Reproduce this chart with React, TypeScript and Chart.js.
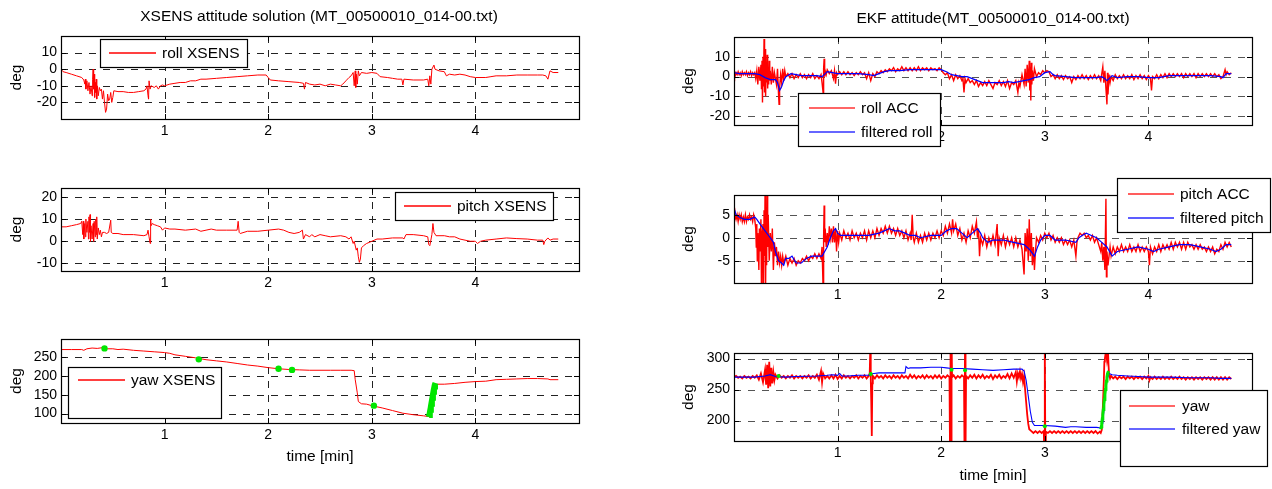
import React, { useEffect, useRef } from 'react';
import { Chart, registerables } from 'chart.js';

Chart.register(...registerables);

type Pt = [number, number];

// ---------- tick labels ----------
const timeTicks = [1, 2, 3, 4];
const rollXsensTicks = [-20, -10, 0, 10];
const pitchXsensTicks = [-10, 0, 10, 20];
const yawXsensTicks = [100, 150, 200, 250];
const rollEkfTicks = [-20, -10, 0, 10];
const pitchEkfTicks = [-5, 0, 5];
const yawEkfTicks = [200, 250, 300];

// ---------- texts ----------
const leftTitle = 'XSENS attitude solution (MT_00500010_014-00.txt)';
const rightTitle = 'EKF attitude(MT_00500010_014-00.txt)';
const yLabel = 'deg';
const xLabel = 'time [min]';

// ---------- XSENS series (time [min], deg) ----------
const rollXsens: Pt[] = [
  [0, 0], [0.02, -1.5], [0.05, -2], [0.1, -3], [0.15, -4], [0.2, -5], [0.22, -6.5], [0.23, -9], [0.235, -6], [0.24, -12],
  [0.25, -7], [0.26, -13], [0.27, -8], [0.28, -15], [0.29, -10], [0.3, -16], [0.305, -6], [0.31, 0], [0.315, -12], [0.32, -3],
  [0.325, -17], [0.33, -8], [0.335, -14], [0.34, -6], [0.345, -18], [0.35, -10], [0.36, -16], [0.37, -11], [0.38, -13], [0.39, -12],
  [0.4, -18], [0.41, -13], [0.42, -20], [0.43, -26], [0.44, -24], [0.45, -15], [0.46, -19], [0.47, -18], [0.48, -14], [0.49, -20],
  [0.5, -17], [0.51, -13], [0.55, -13.5], [0.6, -13.5], [0.65, -14], [0.7, -14], [0.75, -13.5], [0.8, -13], [0.82, -12], [0.83, -10],
  [0.84, -16], [0.845, -18], [0.85, -7], [0.86, -12], [0.87, -10], [0.9, -11], [0.92, -10], [0.94, -12], [0.96, -10], [0.98, -9.5],
  [1.0, -10], [1.05, -9], [1.1, -8.5], [1.15, -8], [1.2, -8], [1.25, -7], [1.3, -7], [1.35, -6], [1.4, -6], [1.5, -5.5],
  [1.6, -5], [1.7, -4.5], [1.8, -4], [1.9, -3.5], [1.98, -3.5], [2.0, -5], [2.02, -6.5], [2.1, -7], [2.2, -7.5], [2.3, -8],
  [2.34, -8.5], [2.35, -12], [2.36, -8], [2.4, -9], [2.45, -9.5], [2.5, -9], [2.55, -10], [2.6, -9], [2.65, -9.5], [2.7, -10],
  [2.72, -9], [2.75, -7], [2.78, -5], [2.8, -4], [2.82, -2], [2.83, -10], [2.84, -1], [2.845, -11], [2.85, -3], [2.86, -9],
  [2.87, -1], [2.88, -4], [2.9, -2], [2.95, -2.5], [3.0, -2], [3.05, -2.5], [3.08, -4.5], [3.15, -5], [3.2, -5.5], [3.25, -6],
  [3.29, -6], [3.3, -9.5], [3.31, -6], [3.4, -6.5], [3.5, -6.5], [3.54, -6], [3.55, -10], [3.56, -4], [3.57, -9], [3.58, 0],
  [3.6, 2.5], [3.61, 0], [3.65, -1], [3.7, -1.5], [3.72, -4], [3.75, -3], [3.8, -3.5], [3.85, -3], [3.9, -3.5], [3.95, -4.5],
  [4.0, -5], [4.1, -5], [4.15, -4.5], [4.2, -4], [4.3, -4], [4.4, -3.5], [4.5, -3.5], [4.6, -3.5], [4.65, -3.5], [4.68, -4],
  [4.7, -6], [4.72, -1], [4.75, -2], [4.8, -2],
];

const pitchXsens: Pt[] = [
  [0, 6.5], [0.05, 6.5], [0.1, 7], [0.15, 7.5], [0.19, 8], [0.2, 9], [0.21, 3], [0.215, 9], [0.22, 1], [0.23, 8],
  [0.235, 2], [0.24, 10], [0.25, 4], [0.26, 9], [0.265, 1], [0.27, 11], [0.275, 4], [0.28, 12], [0.285, 0], [0.29, 7],
  [0.3, 1], [0.31, 8], [0.315, 0], [0.32, 9], [0.33, 2], [0.335, 10], [0.34, 3], [0.345, 11], [0.35, 1], [0.36, 6],
  [0.37, 3], [0.38, 5], [0.39, 2], [0.4, 4], [0.42, 4], [0.44, 3.5], [0.46, 4], [0.48, 9.5], [0.485, 4], [0.5, 3.5],
  [0.55, 3.5], [0.6, 3], [0.7, 3], [0.8, 2.5], [0.83, 3], [0.84, 5], [0.85, 2], [0.86, -1], [0.865, 10], [0.87, 7],
  [0.88, 8], [0.9, 7.5], [0.93, 7], [0.96, 6.5], [0.98, 5], [1.0, 6], [1.05, 5.5], [1.1, 5.5], [1.2, 5], [1.3, 5.5],
  [1.35, 4.5], [1.4, 5], [1.45, 5.5], [1.5, 5], [1.6, 5], [1.7, 5], [1.71, 9], [1.72, 4], [1.73, 3.5], [1.8, 4.5],
  [1.9, 4.5], [2.0, 5], [2.1, 5.5], [2.15, 5], [2.2, 4], [2.25, 3.5], [2.3, 4], [2.33, 5], [2.34, 1], [2.36, 3],
  [2.4, 2], [2.42, 3], [2.45, 2], [2.5, 3], [2.55, 2.5], [2.6, 2], [2.7, 2.5], [2.75, 2], [2.78, 1], [2.8, 2],
  [2.82, -1], [2.83, 0], [2.85, -4], [2.86, -3], [2.87, -7], [2.88, -9.5], [2.89, -8], [2.9, -3], [2.92, -2], [2.95, -1],
  [3.0, 0], [3.05, 1], [3.1, 1], [3.2, 1.5], [3.3, 1.5], [3.31, 1], [3.33, 3], [3.4, 3], [3.5, 2.5], [3.54, 2],
  [3.55, -1.5], [3.56, -2], [3.58, 3], [3.59, 8], [3.6, 4], [3.62, 2.5], [3.7, 2.5], [3.75, 2], [3.8, 2], [3.85, 1],
  [3.9, 0.5], [3.95, 0], [4.0, 0], [4.02, -1], [4.05, 0], [4.1, 0.5], [4.2, 1], [4.3, 1.5], [4.4, 1.2], [4.5, 1],
  [4.6, 0.5], [4.65, 0.5], [4.66, -1.5], [4.67, 0], [4.7, 1.5], [4.72, 0.5], [4.75, 1], [4.8, 1],
];

const yawXsens: Pt[] = [
  [0, 270], [0.1, 270], [0.2, 270], [0.22, 268], [0.25, 272], [0.3, 274], [0.35, 273], [0.4, 275], [0.45, 272], [0.5, 272],
  [0.55, 270], [0.6, 271], [0.7, 268], [0.8, 266], [0.9, 264], [1.0, 262], [1.05, 260], [1.1, 256], [1.2, 252], [1.3, 248],
  [1.4, 243], [1.5, 240], [1.6, 237], [1.7, 233], [1.8, 229], [1.9, 226], [2.0, 222], [2.1, 219], [2.2, 217], [2.3, 216],
  [2.4, 215], [2.5, 215], [2.6, 215], [2.7, 215], [2.8, 215], [2.83, 214], [2.84, 190], [2.86, 155], [2.87, 132], [2.9, 126],
  [2.95, 125], [3.0, 121], [3.1, 115], [3.2, 108], [3.3, 101], [3.4, 97], [3.5, 94], [3.55, 92], [3.56, 90], [3.58, 130],
  [3.6, 170], [3.62, 178], [3.7, 178], [3.8, 180], [3.9, 183], [4.0, 185], [4.1, 186], [4.2, 190], [4.3, 191], [4.4, 192],
  [4.5, 193], [4.6, 193], [4.7, 192], [4.72, 190], [4.8, 190],
];

const yawXsensMarks: Pt[] = [[0.42, 273], [1.33, 244], [2.1, 219], [2.23, 216], [3.02, 121]];
const yawXsensRamp: Pt[] = [
  [3.55, 91], [3.555, 96], [3.56, 103], [3.565, 110], [3.57, 118], [3.575, 126], [3.58, 134], [3.585, 142],
  [3.59, 150], [3.595, 158], [3.6, 165], [3.605, 172], [3.61, 177], [3.615, 181],
];

// ---------- EKF series (time [min], deg) ----------
const rollAcc: Pt[] = [
  [0, -2], [0.005, 2.5], [0.01, 0], [0.02, 2], [0.03, 1], [0.04, 2.5], [0.05, 1], [0.06, 2], [0.07, 0.5], [0.08, 2.5],
  [0.09, 1], [0.1, 2], [0.11, 1], [0.12, 2.5], [0.13, 0.5], [0.14, 2], [0.15, 1], [0.16, 2.5], [0.17, 0.5], [0.18, 2],
  [0.19, 1], [0.2, 2], [0.21, -1], [0.22, 3], [0.23, -4], [0.24, 5], [0.25, -2], [0.26, 6], [0.265, -6], [0.27, 8],
  [0.275, -13], [0.28, 10], [0.285, -5], [0.29, 19], [0.295, -8], [0.3, 14], [0.305, -10], [0.31, 6], [0.315, -3], [0.32, 11],
  [0.325, -6], [0.33, 4], [0.335, -4], [0.34, 8], [0.345, -2], [0.35, 3], [0.36, -4], [0.37, 5], [0.38, -3], [0.39, 2],
  [0.4, -1], [0.41, -4], [0.42, 4], [0.43, -9], [0.435, -14], [0.44, -6], [0.45, 1], [0.46, -3], [0.47, 4], [0.48, -2],
  [0.49, 3], [0.5, 0], [0.52, 1.5], [0.54, -0.5], [0.56, 1.5], [0.58, -1], [0.6, 1], [0.62, -0.5], [0.64, 1.5], [0.66, -0.5],
  [0.68, 1], [0.7, -1], [0.72, 1], [0.74, -0.5], [0.76, 1.5], [0.78, -1], [0.8, 0.5], [0.82, -1], [0.84, 1], [0.85, -3],
  [0.86, -8], [0.865, 4], [0.87, 9], [0.875, 0], [0.88, 3], [0.89, 1], [0.9, 3.5], [0.92, 1.5], [0.94, 3], [0.96, -1],
  [0.97, 3], [0.98, -3.5], [0.99, 2], [1.0, 1], [1.02, 2.5], [1.04, 1], [1.06, 2.5], [1.08, 1], [1.1, 2.5], [1.12, 1],
  [1.14, 2], [1.16, 0.5], [1.18, 2], [1.2, 1], [1.22, 2.5], [1.24, 1], [1.26, 2], [1.28, -1], [1.3, 2], [1.32, -2],
  [1.34, 1.5], [1.36, 0], [1.38, 2.5], [1.4, 1.5], [1.42, 3], [1.44, 2], [1.46, 3.5], [1.48, 2.5], [1.5, 4], [1.52, 3],
  [1.54, 4.5], [1.56, 2.5], [1.58, 4], [1.6, 3], [1.62, 5], [1.64, 3], [1.66, 4.5], [1.68, 3], [1.7, 4.5], [1.72, 3],
  [1.74, 4.5], [1.76, 3], [1.78, 5], [1.8, 3], [1.82, 4.5], [1.84, 3.5], [1.86, 4.5], [1.88, 3], [1.9, 4.5], [1.92, 3.5],
  [1.94, 4], [1.96, 3], [1.98, 4.5], [2.0, 3.5], [2.02, 2], [2.04, 1], [2.06, 2], [2.08, -1], [2.1, 1], [2.12, -2],
  [2.14, 1], [2.16, -1], [2.18, 0.5], [2.2, -2], [2.21, -1], [2.22, -8], [2.23, -1], [2.24, -3], [2.26, -1], [2.28, -3],
  [2.3, -2], [2.32, -4], [2.34, -2], [2.36, -5], [2.38, -3], [2.4, -4.5], [2.42, -2.5], [2.44, -4.5], [2.46, -2], [2.48, -4],
  [2.5, -6], [2.52, -3], [2.54, -4], [2.56, -2], [2.58, -4.5], [2.6, -2.5], [2.62, -5], [2.64, -2], [2.66, -6], [2.68, -3],
  [2.7, -4], [2.72, -2], [2.74, -8], [2.75, -3], [2.76, -5], [2.78, 1], [2.8, -4], [2.81, 4], [2.82, -5], [2.83, 6],
  [2.84, -3], [2.85, 8], [2.855, -7], [2.86, 5], [2.865, -12], [2.87, 7], [2.875, -4], [2.88, 3], [2.89, -2], [2.9, 4],
  [2.92, 0], [2.94, 2], [2.96, 1], [2.98, 3], [3.0, 2], [3.02, 3], [3.04, 2.5], [3.06, 0], [3.08, 1], [3.1, -1],
  [3.12, 1], [3.14, -1], [3.16, 0.5], [3.18, -1.5], [3.2, 0.5], [3.22, -1], [3.24, 0], [3.26, -3], [3.28, 0], [3.3, -1.5],
  [3.32, 0.5], [3.34, -1], [3.36, 1], [3.38, -1], [3.4, 0.5], [3.42, -1.5], [3.44, 0.5], [3.46, -1], [3.48, 1], [3.5, -1],
  [3.52, 0.5], [3.54, -2], [3.56, 5], [3.57, -3], [3.58, 3], [3.59, -6], [3.6, -14], [3.605, 2], [3.61, -9], [3.62, 1],
  [3.63, -3], [3.64, 0], [3.66, -2], [3.68, 1], [3.7, -1], [3.72, 0.5], [3.74, -1], [3.76, 1], [3.78, -1], [3.8, 0.5],
  [3.82, -1], [3.84, 1], [3.86, -1.5], [3.88, 0.5], [3.9, -1], [3.92, 1], [3.94, -1], [3.96, 0.5], [3.98, -1.5], [4.0, 0.5],
  [4.02, -1], [4.03, -7], [4.04, 0], [4.06, -1], [4.08, 1], [4.1, -1], [4.12, 1], [4.14, -0.5], [4.16, 1.5], [4.18, -0.5],
  [4.2, 1.5], [4.22, 0], [4.24, 1.5], [4.26, 0], [4.28, 1.5], [4.3, 0], [4.32, 1.5], [4.34, -0.5], [4.36, 1.5], [4.38, 0],
  [4.4, 1.5], [4.42, 0], [4.44, 1.5], [4.46, -0.5], [4.48, 1.5], [4.5, 0], [4.52, 1.5], [4.54, 0], [4.56, 1.5], [4.58, 0],
  [4.6, 1.5], [4.62, 0], [4.64, 1.5], [4.66, 0], [4.68, 1], [4.7, -1], [4.72, 0], [4.74, 3.5], [4.75, 1], [4.76, 2.5],
  [4.78, 1], [4.8, 2],
];

const rollFiltered: Pt[] = [
  [0, 2], [0.05, 1.5], [0.1, 1.5], [0.2, 1.5], [0.25, 1], [0.3, -0.5], [0.35, -1.5], [0.4, -1.5], [0.42, -3], [0.44, -7],
  [0.46, -5], [0.48, -2], [0.5, 0], [0.55, 1.5], [0.6, 1], [0.65, 0.5], [0.7, 0.5], [0.8, 0.5], [0.85, 0], [0.88, 1.5],
  [0.9, 2.5], [0.95, 2], [1.0, 1.5], [1.1, 1.5], [1.2, 1.5], [1.3, 1], [1.35, 0.5], [1.4, 1.5], [1.45, 2.5], [1.5, 3],
  [1.6, 3], [1.7, 3.5], [1.8, 3.5], [1.9, 3.5], [2.0, 3.5], [2.05, 2.5], [2.1, 1], [2.15, 0.5], [2.2, 0], [2.25, 0],
  [2.3, -1], [2.35, -2], [2.4, -3], [2.5, -3], [2.6, -3], [2.65, -2.5], [2.7, -3], [2.75, -2.5], [2.8, -2], [2.85, -1.5],
  [2.9, -0.5], [2.95, 0], [3.0, 2], [3.05, 2.5], [3.08, 1], [3.1, 0.5], [3.2, 0], [3.3, -0.5], [3.4, -0.5], [3.5, -0.5],
  [3.55, 0], [3.58, -1], [3.6, -2], [3.63, -0.5], [3.65, 0.5], [3.7, -0.5], [3.8, 0], [3.9, 0], [4.0, -0.5], [4.1, -0.5],
  [4.2, 0.5], [4.3, 0.5], [4.4, 0.5], [4.5, 0.5], [4.6, 0.5], [4.7, 0], [4.72, -0.5], [4.75, 1.5], [4.8, 1.5],
];

const pitchAcc: Pt[] = [
  [0, 4], [0.005, 6.5], [0.01, 5], [0.02, 4], [0.03, 5], [0.04, 3.5], [0.05, 5], [0.06, 4], [0.07, 5], [0.08, 3.5],
  [0.09, 4.5], [0.1, 3.5], [0.11, 5], [0.12, 3.5], [0.13, 4.5], [0.14, 4], [0.15, 5], [0.16, 4], [0.17, 4.5], [0.18, 3.5],
  [0.19, 5], [0.2, 4], [0.21, 2], [0.215, -2], [0.22, 3], [0.225, -5], [0.23, 1], [0.24, -7], [0.245, 2], [0.25, -3],
  [0.26, 4], [0.265, -11], [0.27, 0], [0.28, 3], [0.285, -11], [0.29, 6], [0.295, -4], [0.3, 11], [0.305, -11], [0.31, 3],
  [0.315, -6], [0.32, 11], [0.325, -2], [0.33, 5], [0.34, -5], [0.35, 1], [0.36, -3], [0.37, 2], [0.38, -7], [0.39, -1],
  [0.4, -4], [0.41, -2], [0.42, -6], [0.43, -3], [0.44, -5.5], [0.45, -4], [0.46, -6], [0.47, -4], [0.48, -5.5], [0.5, -4],
  [0.52, -6], [0.54, -4.5], [0.56, -5.5], [0.58, -4.5], [0.6, -6], [0.62, -5], [0.64, -5.5], [0.66, -4.5], [0.68, -5], [0.7, -4],
  [0.72, -5], [0.74, -4], [0.76, -4.5], [0.78, -3.5], [0.8, -4.5], [0.82, -3.5], [0.84, -4.5], [0.85, -2], [0.86, -11], [0.865, 0],
  [0.87, 7], [0.875, -1], [0.88, 2], [0.89, -2], [0.9, 1], [0.91, -1.5], [0.92, 2.5], [0.93, 0], [0.94, 2], [0.95, -1],
  [0.96, 2.5], [0.97, -1], [0.98, 2], [0.99, -3], [1.0, 1.5], [1.01, -1], [1.02, 1], [1.04, -0.5], [1.06, 1.5], [1.08, 0],
  [1.1, 1], [1.12, -0.5], [1.14, 1.5], [1.16, 0], [1.18, 1], [1.2, -0.5], [1.22, 1], [1.24, 0], [1.26, 1.5], [1.28, -0.5],
  [1.3, 1.5], [1.32, 0], [1.34, 1.5], [1.36, 0], [1.38, 2], [1.4, 0.5], [1.42, 2], [1.44, 1], [1.46, 2.5], [1.48, 1],
  [1.5, 2.5], [1.52, 1], [1.54, 2], [1.56, 0.5], [1.58, 2], [1.6, 0.5], [1.62, 1.5], [1.64, 0], [1.66, 1.5], [1.68, -0.5],
  [1.7, 1], [1.71, -0.5], [1.72, 5], [1.73, 0], [1.74, -1], [1.76, 1], [1.78, -1], [1.8, 0.5], [1.82, -1], [1.84, 1],
  [1.86, -0.5], [1.88, 1], [1.9, -0.5], [1.92, 1], [1.94, 0], [1.96, 1.5], [1.98, 0], [2.0, 1.5], [2.02, 0.5], [2.04, 2.5],
  [2.06, 1], [2.08, 3], [2.1, 1], [2.11, 4], [2.12, 1.5], [2.14, 3], [2.16, 0.5], [2.18, 2], [2.2, -0.5], [2.22, 1],
  [2.24, -1], [2.26, 1.5], [2.28, 0], [2.3, 2.5], [2.32, 1], [2.34, 3.5], [2.35, 0], [2.36, 2], [2.37, -4], [2.38, 0],
  [2.4, -1.5], [2.42, 0.5], [2.44, -2], [2.46, 0], [2.48, -1.5], [2.5, 0.5], [2.52, -1.5], [2.54, 3], [2.55, -4], [2.56, 0],
  [2.58, -1.5], [2.6, 0.5], [2.62, -2], [2.64, 0], [2.66, -1.5], [2.68, 0], [2.7, -2], [2.72, 0], [2.74, -2], [2.76, -0.5],
  [2.78, -2.5], [2.8, -8], [2.81, 1], [2.82, -3], [2.83, 2], [2.84, -5], [2.85, 4], [2.86, -4], [2.87, 1], [2.88, -6],
  [2.89, -2], [2.9, -7], [2.91, -3], [2.92, 0], [2.94, -1], [2.96, 0.5], [2.98, -0.5], [3.0, 1], [3.02, 0], [3.04, 1],
  [3.06, -0.5], [3.08, 0.5], [3.1, -1], [3.12, 0], [3.14, -1], [3.16, 0], [3.18, -1.5], [3.2, -0.5], [3.22, -1.5], [3.24, -0.5],
  [3.26, -2], [3.28, -0.5], [3.3, -4], [3.31, -1], [3.32, 0], [3.34, 1], [3.36, 0.5], [3.38, 1], [3.4, 0], [3.42, 0.5],
  [3.44, -0.5], [3.46, 0.5], [3.48, -1], [3.5, 0], [3.52, -1.5], [3.54, -3], [3.55, -1], [3.56, -5], [3.57, -2], [3.58, -7],
  [3.59, 8.5], [3.595, -8.5], [3.6, -3], [3.61, -6], [3.62, -4], [3.63, -2], [3.64, -4], [3.66, -2], [3.68, -3.5], [3.7, -2],
  [3.72, -3], [3.74, -1.5], [3.76, -3], [3.78, -2], [3.8, -3], [3.82, -1.5], [3.84, -3], [3.86, -2], [3.88, -3], [3.9, -1.5],
  [3.92, -3], [3.94, -2], [3.96, -3], [3.98, -2], [4.0, -3], [4.01, -6], [4.02, -2], [4.04, -3.5], [4.06, -2], [4.08, -3],
  [4.1, -1.5], [4.12, -3], [4.14, -1.5], [4.16, -2.5], [4.18, -1.5], [4.2, -2.5], [4.22, -1], [4.24, -2.5], [4.26, -1], [4.28, -2],
  [4.3, -1], [4.32, -2.5], [4.34, -1], [4.36, -2.5], [4.38, -1], [4.4, -2], [4.42, -1.5], [4.44, -2.5], [4.46, -1.5], [4.48, -2.5],
  [4.5, -1.5], [4.52, -2.5], [4.54, -2], [4.56, -3], [4.58, -2], [4.6, -3], [4.62, -2], [4.64, -3.5], [4.66, -2.5], [4.68, -3],
  [4.7, -1.5], [4.72, -2.5], [4.74, -1], [4.76, -2], [4.78, -1], [4.8, -2],
];

const pitchFiltered: Pt[] = [
  [0, 6.5], [0.02, 5], [0.05, 4.5], [0.1, 4], [0.15, 4], [0.2, 4.5], [0.22, 4], [0.25, 3], [0.3, 1.5], [0.35, 0],
  [0.38, -1], [0.4, -3], [0.43, -5], [0.46, -5.5], [0.48, -6], [0.5, -4.5], [0.53, -4.5], [0.56, -4], [0.6, -5.5], [0.65, -5.5],
  [0.7, -4.5], [0.75, -4], [0.8, -4], [0.85, -4], [0.9, -2], [0.93, 0], [0.96, 1.5], [0.98, 2], [1.0, 1], [1.03, 0.5],
  [1.1, 0.5], [1.2, 0.5], [1.3, 0.5], [1.4, 1], [1.45, 1.5], [1.5, 2], [1.55, 1.5], [1.6, 1.5], [1.65, 1], [1.7, 0.5],
  [1.75, 0.5], [1.8, 0], [1.9, 0.5], [2.0, 0.5], [2.05, 1.5], [2.1, 2], [2.15, 2], [2.2, 1], [2.25, 0], [2.3, 1],
  [2.35, 2], [2.38, 1], [2.4, 0], [2.45, -1], [2.5, -0.5], [2.6, -0.5], [2.7, -1], [2.8, -1.5], [2.85, -2.5], [2.9, -4],
  [2.93, -2], [2.96, -0.5], [3.0, 0.5], [3.05, 0.5], [3.1, -0.5], [3.2, -0.5], [3.3, -1], [3.33, 0], [3.36, 0.5], [3.4, 1],
  [3.45, 0.5], [3.5, 0], [3.55, -1], [3.6, -2], [3.65, -4], [3.7, -3], [3.8, -2.5], [3.9, -2], [4.0, -2.5], [4.05, -3],
  [4.1, -2.5], [4.2, -2], [4.3, -1.5], [4.4, -1.5], [4.5, -2], [4.6, -2.5], [4.65, -3], [4.7, -2.5], [4.75, -1.5], [4.8, -1.5],
];

const yawAcc: Pt[] = [
  [0, 270], [0.02, 272], [0.04, 269], [0.06, 271], [0.08, 268], [0.1, 272], [0.12, 269], [0.14, 271], [0.16, 268], [0.18, 272],
  [0.2, 269], [0.22, 273], [0.24, 266], [0.26, 276], [0.28, 262], [0.3, 282], [0.31, 258], [0.32, 290], [0.33, 252], [0.34, 295],
  [0.35, 255], [0.36, 285], [0.37, 260], [0.38, 278], [0.39, 265], [0.4, 274], [0.42, 268], [0.44, 273], [0.46, 269], [0.48, 272],
  [0.5, 268], [0.52, 272], [0.54, 269], [0.56, 273], [0.58, 268], [0.6, 272], [0.62, 269], [0.64, 272], [0.66, 268], [0.68, 272],
  [0.7, 269], [0.72, 273], [0.74, 268], [0.76, 272], [0.78, 269], [0.8, 274], [0.82, 266], [0.84, 280], [0.85, 262], [0.86, 276],
  [0.88, 268], [0.9, 272], [0.92, 268], [0.94, 273], [0.96, 268], [0.98, 274], [1.0, 267], [1.02, 272], [1.04, 268], [1.06, 273],
  [1.08, 269], [1.1, 272], [1.12, 268], [1.14, 272], [1.16, 269], [1.18, 273], [1.2, 268], [1.22, 272], [1.24, 269], [1.26, 273],
  [1.28, 268], [1.3, 272], [1.31, 276], [1.315, 312], [1.32, 268], [1.325, 230], [1.33, 175], [1.335, 260], [1.34, 272], [1.36, 268],
  [1.38, 273], [1.4, 269], [1.42, 272], [1.44, 268], [1.46, 273], [1.48, 269], [1.5, 272], [1.52, 268], [1.54, 273], [1.56, 269],
  [1.58, 272], [1.6, 268], [1.62, 273], [1.64, 269], [1.66, 272], [1.68, 268], [1.7, 274], [1.72, 269], [1.74, 273], [1.76, 268],
  [1.78, 272], [1.8, 269], [1.82, 273], [1.84, 268], [1.86, 273], [1.88, 269], [1.9, 272], [1.92, 268], [1.94, 273], [1.96, 269],
  [1.98, 273], [2.0, 268], [2.02, 272], [2.04, 269], [2.06, 273], [2.08, 270], [2.085, 150], [2.09, 330], [2.095, 150], [2.1, 330],
  [2.105, 270], [2.12, 273], [2.14, 268], [2.16, 272], [2.18, 269], [2.2, 273], [2.22, 270], [2.225, 150], [2.23, 330], [2.235, 150],
  [2.24, 272], [2.26, 268], [2.28, 273], [2.3, 269], [2.32, 274], [2.34, 268], [2.36, 273], [2.38, 269], [2.4, 274], [2.42, 268],
  [2.44, 272], [2.46, 269], [2.48, 274], [2.5, 267], [2.52, 273], [2.54, 269], [2.56, 274], [2.58, 268], [2.6, 272], [2.62, 269],
  [2.64, 275], [2.66, 268], [2.68, 276], [2.7, 269], [2.72, 278], [2.73, 263], [2.74, 276], [2.75, 270], [2.76, 279], [2.77, 268],
  [2.78, 275], [2.79, 262], [2.8, 272], [2.81, 250], [2.82, 230], [2.83, 210], [2.84, 195], [2.85, 186], [2.87, 183], [2.89, 180],
  [2.91, 183], [2.93, 180], [2.95, 183], [2.97, 180], [2.99, 183], [2.995, 150], [3.0, 330], [3.005, 150], [3.01, 182], [3.03, 180],
  [3.05, 183], [3.07, 180], [3.09, 183], [3.11, 180], [3.13, 183], [3.15, 180], [3.17, 183], [3.19, 180], [3.21, 183], [3.23, 180],
  [3.25, 183], [3.27, 180], [3.29, 183], [3.31, 180], [3.33, 183], [3.35, 180], [3.37, 183], [3.39, 180], [3.41, 183], [3.43, 180],
  [3.45, 183], [3.47, 180], [3.49, 183], [3.51, 179], [3.53, 182], [3.54, 180], [3.55, 185], [3.56, 220], [3.57, 265], [3.575, 295],
  [3.58, 300], [3.59, 312], [3.6, 298], [3.61, 312], [3.615, 290], [3.62, 275], [3.63, 268], [3.64, 272], [3.66, 268], [3.68, 271],
  [3.7, 267], [3.72, 271], [3.74, 268], [3.76, 271], [3.78, 267], [3.8, 271], [3.82, 268], [3.84, 271], [3.86, 267], [3.88, 271],
  [3.9, 268], [3.92, 271], [3.94, 267], [3.96, 271], [3.98, 268], [4.0, 272], [4.01, 265], [4.02, 270], [4.04, 267], [4.06, 271],
  [4.08, 267], [4.1, 270], [4.12, 267], [4.14, 271], [4.16, 267], [4.18, 270], [4.2, 267], [4.22, 271], [4.24, 267], [4.26, 270],
  [4.28, 267], [4.3, 271], [4.32, 267], [4.34, 270], [4.36, 266], [4.38, 270], [4.4, 267], [4.42, 270], [4.44, 266], [4.46, 270],
  [4.48, 267], [4.5, 270], [4.52, 266], [4.54, 270], [4.56, 267], [4.58, 270], [4.6, 266], [4.62, 270], [4.64, 266], [4.66, 270],
  [4.68, 266], [4.7, 270], [4.72, 266], [4.74, 270], [4.76, 266], [4.78, 270], [4.8, 267],
];

const yawFiltered: Pt[] = [
  [0, 270], [0.2, 270], [0.3, 272], [0.35, 274], [0.4, 271], [0.5, 270], [0.6, 271], [0.8, 272], [0.9, 273], [0.95, 274],
  [1.0, 273], [1.02, 276], [1.04, 272], [1.1, 272], [1.2, 273], [1.3, 273], [1.32, 275], [1.35, 276], [1.4, 277], [1.5, 277],
  [1.6, 277], [1.65, 277], [1.66, 287], [1.68, 284], [1.7, 285], [1.8, 285], [1.9, 286], [2.0, 286], [2.05, 285], [2.1, 284],
  [2.2, 284], [2.3, 283], [2.4, 282], [2.5, 281], [2.6, 282], [2.7, 283], [2.78, 283], [2.8, 280], [2.82, 265], [2.84, 240],
  [2.86, 215], [2.88, 197], [2.9, 192], [3.0, 192], [3.1, 191], [3.2, 189], [3.25, 190], [3.3, 190], [3.4, 189], [3.5, 189],
  [3.54, 188], [3.56, 195], [3.57, 215], [3.58, 240], [3.59, 255], [3.6, 265], [3.62, 276], [3.65, 274], [3.7, 273], [3.8, 272],
  [3.9, 271], [4.0, 270], [4.2, 270], [4.4, 269], [4.6, 269], [4.7, 268], [4.8, 268],
];

const yawEkfMarks: Pt[] = [[0.43, 272], [1.32, 275], [2.1, 282], [2.23, 281], [3.0, 191]];
const yawEkfRamp: Pt[] = [
  [3.54, 186], [3.545, 190], [3.55, 196], [3.555, 203], [3.56, 210], [3.565, 218], [3.57, 226], [3.575, 234],
  [3.58, 242], [3.585, 250], [3.59, 257], [3.595, 264], [3.6, 270], [3.605, 275], [3.61, 278], [3.615, 280],
];

// ---------- rendering ----------
const W = 1272;
const H = 489;
const FONT = "'Liberation Sans', Arial, Helvetica, sans-serif";
const RED = '#ff0000';
const BLUE = '#0000ff';
const GREEN = '#00e600';

Chart.defaults.font.family = FONT;
Chart.defaults.color = '#000';

const toXY = (a: Pt[]) => a.map(([x, y]) => ({ x, y }));

const lineDs = (data: Pt[], color: string, width: number, order: number) => ({
  data: toXY(data), showLine: true, borderColor: color, backgroundColor: color,
  borderWidth: width, pointRadius: 0, tension: 0, order,
});
const markDs = (data: Pt[], color: string, r: number, order: number) => ({
  data: toXY(data), showLine: false, pointRadius: r, pointBackgroundColor: color,
  pointBorderWidth: 0, backgroundColor: color, borderColor: color, order,
});

type LegendItem = { label: string; color: string; width: number; y: number };
type LegendSpec = { rect: [number, number, number, number]; lineX: [number, number]; textX: number; items: LegendItem[] };
type PanelSpec = {
  box: [number, number, number, number];
  yRange: [number, number];
  yTicks: number[];
  datasets: any[];
  legend: LegendSpec;
  xTitlePad: number | null;
  yTitlePad: number;
  title: { text: string; x: number; y: number } | null;
  grid: { color: string; dash: number[] };
};

const LEFT_GRID = { color: '#222', dash: [7, 7] };
const RIGHT_GRID = { color: '#555', dash: [7, 7] };

const panels: PanelSpec[] = [
  {
    box: [61, 36, 579, 119], yRange: [-30, 20], yTicks: rollXsensTicks,
    datasets: [lineDs(rollXsens, RED, 1, 1)],
    legend: { rect: [100, 39, 147, 28], lineX: [109, 156], textX: 162, items: [{ label: 'roll XSENS', color: RED, width: 1.4, y: 53 }] },
    xTitlePad: null, yTitlePad: 7.4, title: { text: leftTitle, x: 319, y: 17 },
    grid: LEFT_GRID,
  },
  {
    box: [61, 188, 579, 271], yRange: [-13.4, 24], yTicks: pitchXsensTicks,
    datasets: [lineDs(pitchXsens, RED, 1, 1)],
    legend: { rect: [395, 192, 158, 28], lineX: [404, 451], textX: 457, items: [{ label: 'pitch XSENS', color: RED, width: 1.4, y: 206 }] },
    xTitlePad: null, yTitlePad: 7.4, title: null,
    grid: LEFT_GRID,
  },
  {
    box: [61, 339, 579, 423], yRange: [75, 298], yTicks: yawXsensTicks,
    datasets: [lineDs(yawXsens, RED, 1, 2), markDs(yawXsensMarks, GREEN, 3.2, 0), lineDs(yawXsensRamp, GREEN, 6, 0)],
    legend: { rect: [68, 367, 153, 51], lineX: [78, 125], textX: 131, items: [{ label: 'yaw XSENS', color: RED, width: 1.4, y: 380 }] },
    xTitlePad: 2, yTitlePad: 7.4, title: null,
    grid: LEFT_GRID,
  },
  {
    box: [734, 37, 1252, 125], yRange: [-24.4, 20], yTicks: rollEkfTicks,
    datasets: [lineDs(rollAcc, RED, 1.4, 2), lineDs(rollFiltered, BLUE, 1.2, 1)],
    legend: {
      rect: [798, 93, 142, 53], lineX: [809, 855], textX: 861,
      items: [
        { label: 'roll ACC', color: 'rgba(255,0,0,0.6)', width: 2, y: 108 },
        { label: 'filtered roll', color: 'rgba(0,0,255,0.6)', width: 2, y: 132 },
      ],
    },
    xTitlePad: null, yTitlePad: 6.3, title: { text: rightTitle, x: 993, y: 19 },
    grid: RIGHT_GRID,
  },
  {
    box: [734, 195, 1252, 283], yRange: [-9.85, 9.3], yTicks: pitchEkfTicks,
    datasets: [lineDs(pitchAcc, RED, 1.4, 2), lineDs(pitchFiltered, BLUE, 1.2, 1)],
    legend: {
      rect: [1117, 178, 153, 54], lineX: [1128, 1174], textX: 1180,
      items: [
        { label: 'pitch ACC', color: 'rgba(255,0,0,0.85)', width: 1.4, y: 194 },
        { label: 'filtered pitch', color: 'rgba(0,0,255,0.85)', width: 1.4, y: 218 },
      ],
    },
    xTitlePad: null, yTitlePad: 6.3, title: null,
    grid: RIGHT_GRID,
  },
  {
    box: [734, 353, 1252, 441], yRange: [167, 309], yTicks: yawEkfTicks,
    datasets: [
      lineDs(yawAcc, RED, 1.8, 2), lineDs(yawFiltered, BLUE, 1.1, 1),
      markDs(yawEkfMarks, GREEN, 2, 0), lineDs(yawEkfRamp, GREEN, 3, 0),
    ],
    legend: {
      rect: [1120, 390, 147, 76], lineX: [1129, 1175], textX: 1182,
      items: [
        { label: 'yaw', color: 'rgba(255,0,0,0.6)', width: 2, y: 406 },
        { label: 'filtered yaw', color: 'rgba(0,0,255,0.6)', width: 2, y: 429 },
      ],
    },
    xTitlePad: 0.7, yTitlePad: 6.3, title: null,
    grid: RIGHT_GRID,
  },
];

function axesPlugin(p: PanelSpec) {
  return {
    id: 'matlabAxes',
    beforeDatasetsDraw(chart: any) {
      const { ctx, chartArea: a } = chart;
      const xs = chart.scales.x;
      const ys = chart.scales.y;
      ctx.save();
      ctx.strokeStyle = p.grid.color;
      ctx.lineWidth = 1;
      ctx.setLineDash(p.grid.dash);
      for (const v of timeTicks) {
        const px = Math.round(xs.getPixelForValue(v)) + 0.5;
        ctx.beginPath(); ctx.moveTo(px, a.top); ctx.lineTo(px, a.bottom); ctx.stroke();
      }
      for (const v of p.yTicks) {
        const py = Math.round(ys.getPixelForValue(v)) + 0.5;
        ctx.beginPath(); ctx.moveTo(a.left, py); ctx.lineTo(a.right, py); ctx.stroke();
      }
      ctx.restore();
    },
    afterDatasetsDraw(chart: any) {
      const { ctx, chartArea: a } = chart;
      const xs = chart.scales.x;
      const ys = chart.scales.y;
      const tl = 5;
      ctx.save();
      ctx.strokeStyle = '#000';
      ctx.lineWidth = 1;
      ctx.setLineDash([]);
      ctx.beginPath();
      for (const v of timeTicks) {
        const px = Math.round(xs.getPixelForValue(v)) + 0.5;
        ctx.moveTo(px, a.bottom); ctx.lineTo(px, a.bottom - tl);
        ctx.moveTo(px, a.top); ctx.lineTo(px, a.top + tl);
      }
      for (const v of p.yTicks) {
        const py = Math.round(ys.getPixelForValue(v)) + 0.5;
        ctx.moveTo(a.left, py); ctx.lineTo(a.left + tl, py);
        ctx.moveTo(a.right, py); ctx.lineTo(a.right - tl, py);
      }
      ctx.stroke();
      ctx.lineWidth = 1.2;
      ctx.strokeRect(Math.round(a.left) + 0.5, Math.round(a.top) + 0.5, Math.round(a.right - a.left), Math.round(a.bottom - a.top));
      ctx.restore();
    },
  };
}

function legendPlugin(l: LegendSpec) {
  return {
    id: 'boxLegend',
    afterDraw(chart: any) {
      const ctx = chart.ctx;
      const [x, y, w, h] = l.rect;
      ctx.save();
      ctx.setLineDash([]);
      ctx.fillStyle = '#fff';
      ctx.fillRect(x, y, w, h);
      ctx.strokeStyle = '#000';
      ctx.lineWidth = 1.2;
      ctx.strokeRect(x + 0.5, y + 0.5, w, h);
      ctx.font = `15.5px ${FONT}`;
      ctx.textBaseline = 'middle';
      ctx.textAlign = 'left';
      for (const it of l.items) {
        ctx.beginPath();
        ctx.strokeStyle = it.color;
        ctx.lineWidth = it.width;
        ctx.moveTo(l.lineX[0], it.y);
        ctx.lineTo(l.lineX[1], it.y);
        ctx.stroke();
        ctx.fillStyle = '#000';
        ctx.fillText(it.label, l.textX, it.y + 1);
      }
      ctx.restore();
    },
  };
}

function titlePlugin(t: { text: string; x: number; y: number }) {
  return {
    id: 'figTitle',
    afterDraw(chart: any) {
      const ctx = chart.ctx;
      ctx.save();
      ctx.font = `15.5px ${FONT}`;
      ctx.fillStyle = '#000';
      ctx.textAlign = 'center';
      ctx.textBaseline = 'middle';
      ctx.fillText(t.text, t.x, t.y);
      ctx.restore();
    },
  };
}

function buildConfig(p: PanelSpec): any {
  const [L, T, R, B] = p.box;
  const yw = 61;
  const xh = p.xTitlePad !== null ? 45 : 30;
  const plugins: any[] = [axesPlugin(p), legendPlugin(p.legend)];
  if (p.title) plugins.push(titlePlugin(p.title));
  const tickFont = { family: FONT, size: 14 };
  const labelFont = { family: FONT, size: 15.5 };
  return {
    type: 'scatter',
    data: { datasets: p.datasets },
    options: {
      animation: false,
      responsive: false,
      devicePixelRatio: 1,
      events: [],
      layout: { padding: { left: L - yw, top: T, right: W - R, bottom: H - B - xh } },
      plugins: { legend: { display: false }, tooltip: { enabled: false }, title: { display: false } },
      scales: {
        x: {
          type: 'linear', position: 'bottom', min: 0, max: 5,
          grid: { display: false, drawTicks: false },
          border: { display: false },
          ticks: { color: '#000', font: tickFont, padding: 4, maxRotation: 0, autoSkip: false, callback: (v: any) => String(v) },
          afterBuildTicks: (s: any) => { s.ticks = timeTicks.map((v) => ({ value: v })); },
          afterFit: (s: any) => { s.height = xh; },
          title: p.xTitlePad !== null
            ? { display: true, text: xLabel, color: '#000', font: labelFont, padding: { top: 0, bottom: p.xTitlePad } }
            : { display: false },
        },
        y: {
          type: 'linear', position: 'left', min: p.yRange[0], max: p.yRange[1],
          grid: { display: false, drawTicks: false },
          border: { display: false },
          ticks: { color: '#000', font: tickFont, padding: 4, autoSkip: false, callback: (v: any) => String(v) },
          afterBuildTicks: (s: any) => { s.ticks = p.yTicks.map((v) => ({ value: v })); },
          afterFit: (s: any) => { s.width = yw; },
          title: { display: true, text: yLabel, color: '#000', font: labelFont, padding: { top: p.yTitlePad, bottom: 0 } },
        },
      },
    },
    plugins,
  };
}

export default function App() {
  const refs = useRef<(HTMLCanvasElement | null)[]>([]);
  useEffect(() => {
    const charts = panels.map((p, i) => new Chart(refs.current[i] as HTMLCanvasElement, buildConfig(p)));
    return () => { charts.forEach((c) => c.destroy()); };
  }, []);
  return (
    <div style={{ position: 'fixed', left: 0, top: 0, width: W, height: H, background: '#fff' }}>
      {panels.map((_, i) => (
        <canvas
          key={i}
          ref={(el) => { refs.current[i] = el; }}
          width={W}
          height={H}
          style={{ position: 'absolute', left: 0, top: 0, width: W, height: H }}
        />
      ))}
    </div>
  );
}
